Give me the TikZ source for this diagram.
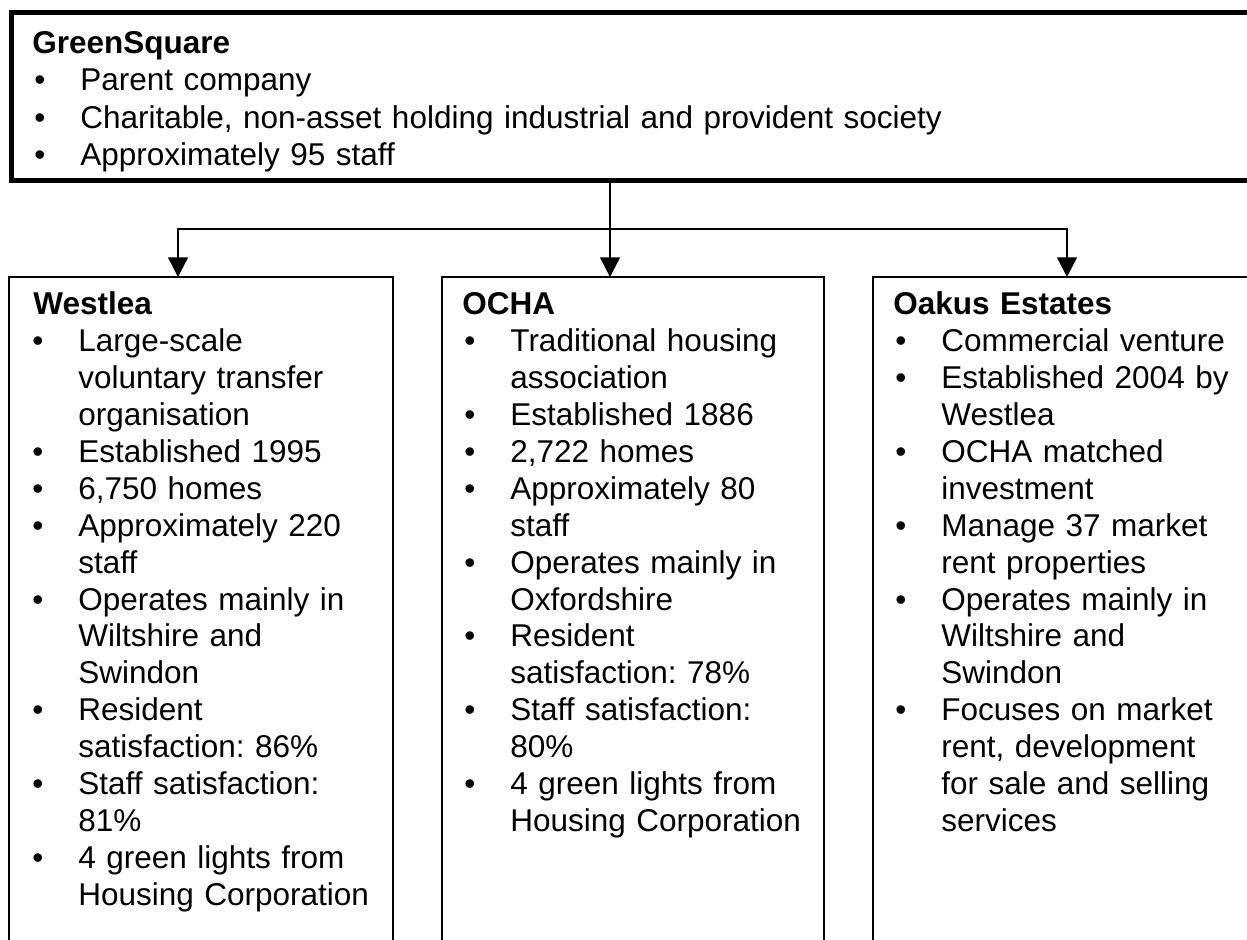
\documentclass[tikz,border=0pt]{standalone}
\usepackage{fontspec}
\setmainfont{Liberation Sans}
\usetikzlibrary{arrows.meta}

\setlength{\parskip}{0pt}
\newcommand{\punkt}[1]{\par\hangindent=24pt\hangafter=1\noindent\makebox[24pt][l]{\hspace{1pt}\textbullet}#1}
\newcommand{\nz}{\hfil\break}

\begin{document}
\begin{tikzpicture}[x=0.5pt,y=-0.5pt,
  kasten/.style={draw,line width=1pt,anchor=north west,inner sep=0pt,outer sep=0pt,minimum height=350pt},
  inhalt/.style={anchor=base west,inner sep=0pt,text width=185pt,font=\fontsize{15.75pt}{18.44pt}\selectfont\frenchspacing},
  pfeil/.style={line width=1.25pt,-{Triangle[width=9.75pt,length=9.75pt]}}]
\useasboundingbox (0,0) rectangle (1247,940);
\clip (0,0) rectangle (1247,940);

%Dachgesellschaft
\node[draw,line width=2.5pt,anchor=north west,inner sep=0pt,outer sep=0pt,minimum width=630pt,minimum height=84pt] (green) at (11,13) {};
\node[inhalt,text width=560pt,font=\fontsize{15.75pt}{18.7pt}\selectfont\frenchspacing] (greentext) at (32,53.5) {\textbf{GreenSquare}
\punkt{Parent company}
\punkt{Charitable, non-asset holding industrial and provident society}
\punkt{Approximately 95 staff}\par};

%Tochtergesellschaften
\node[kasten,minimum width=192pt] (westlea) at (9,277) {};
\node[kasten,minimum width=191pt] (ocha) at (442,277) {};
\node[kasten,minimum width=200pt] (oakus) at (873,277) {};

\node[inhalt] (westleatext) at (30,315) {\hspace*{1.5pt}\textbf{Westlea}
\punkt{Large-scale\nz voluntary transfer\nz organisation}
\punkt{Established 1995}
\punkt{6,750 homes}
\punkt{Approximately 220\nz staff}
\punkt{Operates mainly in\nz Wiltshire and\nz Swindon}
\punkt{Resident\nz satisfaction: 86\%}
\punkt{Staff satisfaction:\nz 81\%}
\punkt{4 green lights from\nz Housing Corporation}\par};

\node[inhalt] (ochatext) at (462,315) {\textbf{OCHA}
\punkt{Traditional housing\nz association}
\punkt{Established 1886}
\punkt{2,722 homes}
\punkt{Approximately 80\nz staff}
\punkt{Operates mainly in\nz Oxfordshire}
\punkt{Resident\nz satisfaction: 78\%}
\punkt{Staff satisfaction:\nz 80\%}
\punkt{4 green lights from\nz Housing Corporation}\par};

\node[inhalt] (oakustext) at (893,315) {\textbf{Oakus Estates}
\punkt{Commercial venture}
\punkt{Established 2004 by\nz Westlea}
\punkt{OCHA matched\nz investment}
\punkt{Manage 37 market\nz rent properties}
\punkt{Operates mainly in\nz Wiltshire and\nz Swindon}
\punkt{Focuses on market\nz rent, development\nz for sale and selling\nz services}\par};

%Verbindungen
\coordinate (knoten) at (610,229);
\coordinate (zw) at (178,277);
\coordinate (zo) at (610,277);
\coordinate (zk) at (1067,277);
\draw[pfeil] (green.south -| knoten) -- (zo);
\draw[pfeil] (knoten) -| (zw);
\draw[pfeil] (knoten) -| (zk);

\end{tikzpicture}
\end{document}
